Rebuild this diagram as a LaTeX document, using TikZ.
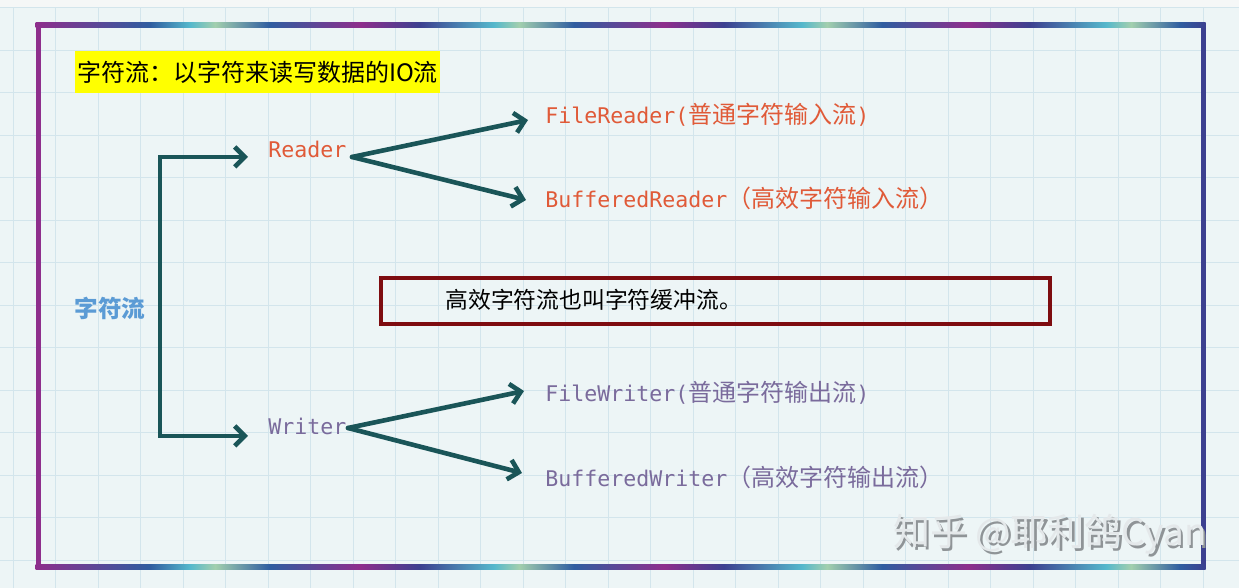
\documentclass[tikz,border=0pt]{standalone}
\usepackage{fontspec}
\usetikzlibrary{arrows.meta,calc}
\newfontfamily\cjk{Noto Sans CJK SC}
\newfontfamily\mono{DejaVu Sans Mono}
\definecolor{bg}{HTML}{EDF5F6}
\definecolor{gridc}{HTML}{D3E5EC}
\definecolor{topband}{HTML}{F5F7F7}
\definecolor{arrc}{HTML}{1A5558}
\definecolor{readc}{HTML}{E05A38}
\definecolor{writc}{HTML}{7A6B9C}
\definecolor{bluec}{HTML}{5B9BD5}
\definecolor{boxred}{HTML}{7E0C10}
\definecolor{hl}{HTML}{FFFF00}
\definecolor{cP}{HTML}{8E2E8C}
\definecolor{cB}{HTML}{2F5DA0}
\definecolor{cC}{HTML}{55B8CC}
\definecolor{cG}{HTML}{A2CFAE}
\definecolor{cN}{HTML}{3C4090}
\definecolor{wmfill}{HTML}{E4E8EA}
\definecolor{wmshadow}{HTML}{8F9497}
\tikzset{
  conn/.style={draw=arrc, line width=2.3pt, line cap=round, line join=round,
    -{Straight Barb[length=5pt,width=10pt]}},
  bracketconn/.style={draw=arrc, line width=2.3pt, line join=miter,
    {Straight Barb[length=5pt,width=10pt]}-{Straight Barb[length=5pt,width=10pt]}},
  rlabel/.style={inner sep=0pt, anchor=base west, text=readc},
  wlabel/.style={inner sep=0pt, anchor=base west, text=writc},
}
\newcommand{\mf}{\mono\fontsize{10.8}{13}\selectfont}
\newcommand{\cf}{\cjk\fontsize{12}{14}\selectfont}
\begin{document}
\begin{tikzpicture}[x=0.5pt,y=-0.5pt]
\useasboundingbox (0,0) rectangle (1239,588);
\fill[bg] (0,0) rectangle (1239,588);
% grid
\foreach \gx in {13,55.5,...,1239} \draw[gridc, line width=0.5pt] (\gx,0) -- (\gx,588);
\foreach \gy in {8,50.5,...,588} \draw[gridc, line width=0.5pt] (0,\gy) -- (1239,\gy);
\fill[topband] (0,0) rectangle (1239,7);
% frame: left and right sides
\fill[cP] (35.5,25) rectangle (40.5,568);
\fill[cN] (1200.5,25) rectangle (1205.5,568);
% frame: top and bottom gradient strips
\foreach \a/\ca/\b/\cb in {35.5/cP/150/cB,150/cB/190/cC,190/cC/215/cG,215/cG/270/cB,270/cB/360/cP,360/cP/420/cN,420/cN/494/cC,
  494/cC/519/cG,519/cG/574/cB,574/cB/664/cP,664/cP/724/cN,724/cN/802/cC,
  802/cC/827/cG,827/cG/882/cB,882/cB/968/cP,968/cP/1030/cN,1030/cN/1106/cC,
  1106/cC/1131/cG,1131/cG/1180/cB,1180/cB/1205.5/cN}{
  \shade[left color=\ca, right color=\cb] (\a,22.5) rectangle (\b,27.5);
  \shade[left color=\ca, right color=\cb] (\a,564.5) rectangle (\b,569.5);
}
% title with highlight
\node[fill=hl, inner xsep=1pt, inner ysep=0pt, minimum height=21pt, minimum width=182.5pt,
  font=\cjk\fontsize{12}{14}\selectfont] (title) at (257.5,72) {字符流：以字符来读写数据的IO流};
% root label
\node[inner sep=0pt, text=bluec, font=\cjk\bfseries\fontsize{11.8}{14}\selectfont] (root) at (110,308) {字符流};
% level 1
\node[rlabel, font=\mf] (reader) at (268,158) {Reader};
\node[wlabel, font=\mf] (writer) at (268,435) {Writer};
% level 2
\node[rlabel] (fr) at (545,124) {\mf FileReader(\cf 普通字符输入流\mf)};
\node[rlabel] (br) at (545,208) {\mf BufferedReader\cf （高效字符输入流）};
\node[wlabel] (fw) at (545,402) {\mf FileWriter(\cf 普通字符输出流\mf)};
\node[wlabel] (bw) at (545,487) {\mf BufferedWriter\cf （高效字符输出流）};
% note box
\node[draw=boxred, line width=2pt, inner sep=0pt, minimum width=334.5pt, minimum height=23pt,
  anchor=north west] (note) at (379,276) {};
\node[inner sep=0pt, anchor=west, font=\cjk\fontsize{11.4}{14}\selectfont] (notetext) at (445,300) {高效字符流也叫字符缓冲流。};
% connector coordinates
\coordinate (bt) at (160,157);
\coordinate (bb) at (160,436);
\coordinate (rtip) at ($(reader.base west)+(-20,-1)$);
\coordinate (wtip) at ($(writer.base west)+(-20,1)$);
\coordinate (ro) at (352,157);
\coordinate (wo) at (348,428);
\coordinate (frtip) at (528,120);
\coordinate (brtip) at (526,200);
\coordinate (fwtip) at (524,391);
\coordinate (bwtip) at (522,473);
% connectors
\draw[bracketconn] (rtip) -- (bt) -- (bb) -- (wtip);
\draw[conn] (ro) -- (frtip);
\draw[conn] (ro) -- (brtip);
\draw[conn] (wo) -- (fwtip);
\draw[conn] (wo) -- (bwtip);
% watermark
\node[inner sep=0pt, anchor=base west, text=wmshadow, font=\cjk\fontsize{18.5}{20}\selectfont] (wmshade) at (895.5,548.5) {知乎 @耶利鸽Cyan};
\node[inner sep=0pt, anchor=base west, text=wmfill, font=\cjk\fontsize{18.5}{20}\selectfont] (wm) at (893,546) {知乎 @耶利鸽Cyan};
\end{tikzpicture}
\end{document}
